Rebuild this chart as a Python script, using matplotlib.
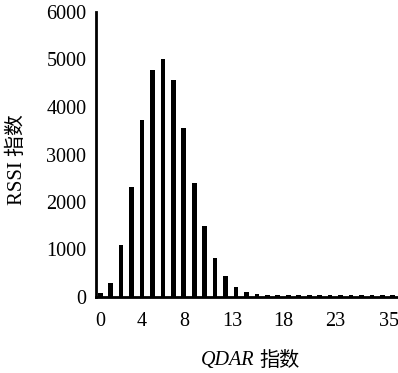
import matplotlib
matplotlib.use("Agg")
import matplotlib.pyplot as plt
import numpy as np

# Data
qdar_index = list(range(29))
rssi_counts = [80, 300, 1095, 2316, 3726, 4780, 5010, 4568, 3557, 2400,
               1495, 830, 440, 217, 100, 65, 50, 50, 50, 50,
               50, 50, 50, 50, 50, 50, 50, 50, 50]
tick_positions = [0, 4, 8, 12.6, 17.5, 22.5, 27.6]
tick_labels = ["0", "4", "8", "13", "18", "23", "35"]
y_ticks = [0, 1000, 2000, 3000, 4000, 5000, 6000]

W, H = 398, 373
fig = plt.figure(figsize=(W / 100, H / 100), dpi=100)
ax = fig.add_axes([96 / W, 1 - 297 / H, (W - 96) / W, (297 - 12) / H])

ax.bar(qdar_index, rssi_counts, width=0.45, color="black")
ax.set_xlim(-0.4, 28.5)
ax.set_ylim(0, 6000)

for s in ["top", "right"]:
    ax.spines[s].set_visible(False)
for s in ["left", "bottom"]:
    ax.spines[s].set_linewidth(2.0)
    ax.spines[s].set_color("black")

serif = "Liberation Serif"
fam = [serif, "Noto Sans CJK SC"]
ax.set_yticks(y_ticks)
ax.set_yticklabels([str(v) for v in y_ticks], fontfamily=serif, fontsize=14.5)
ax.set_xticks(tick_positions)
ax.set_xticklabels(tick_labels, fontfamily=serif, fontsize=14.5)
ax.tick_params(axis="both", length=0)
ax.tick_params(axis="y", pad=7)
ax.tick_params(axis="x", pad=11)

fig.text(17 / W, 1 - 160 / H, "RSSI 指数", rotation=90, ha="center", va="center",
         fontsize=15, fontfamily=fam)
fig.text(254 / W, 1 - 360 / H, "QDAR", ha="right", va="center", fontsize=14.5,
         fontfamily=serif, style="italic")
fig.text(259 / W, 1 - 360 / H, "指数", ha="left", va="center", fontsize=14.5,
         fontfamily=["Noto Sans CJK SC"])

fig.savefig("out.png", dpi=100)
